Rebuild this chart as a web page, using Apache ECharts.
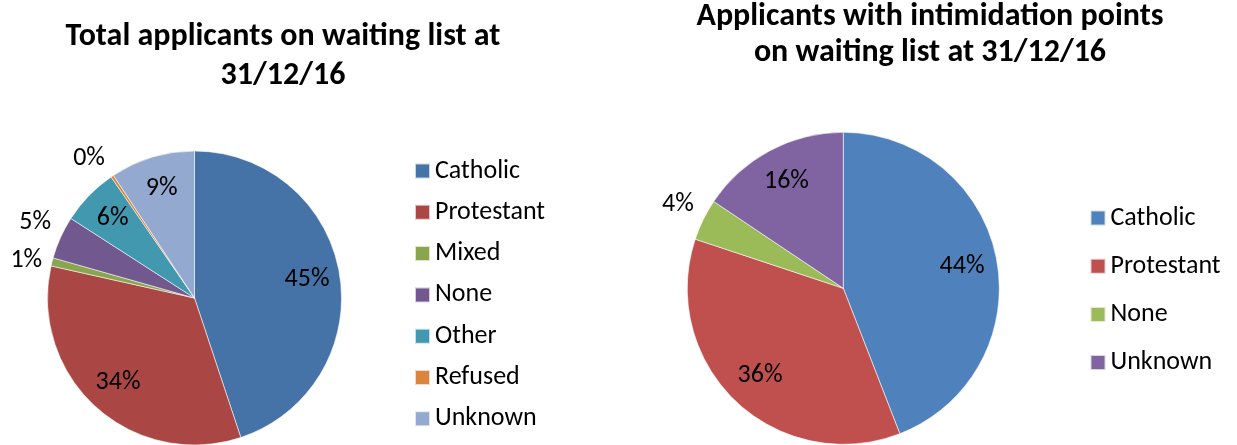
<!DOCTYPE html>
<html>
<head>
<meta charset="utf-8">
<script src="https://cdn.jsdelivr.net/npm/echarts@6/dist/echarts.min.js"></script>
<style>
  html, body { margin: 0; padding: 0; background: #fff; }
  #wrap { position: relative; width: 1237px; height: 445px; overflow: hidden; }
  #left { position: absolute; left: 0; top: 0; width: 620px; height: 445px; }
  #right { position: absolute; left: 620px; top: 0; width: 617px; height: 445px; }
</style>
</head>
<body>
<div id="wrap"><div id="left"></div><div id="right"></div></div>
<script>
// ---- data ----
const leftTitle = 'Total applicants on waiting list at\n31/12/16';
const leftCategories = ['Catholic', 'Protestant', 'Mixed', 'None', 'Other', 'Refused', 'Unknown'];
const leftValues = [44.9, 33.6, 0.9, 4.7, 6.3, 0.3, 9.3];

const rightTitle = 'Applicants with intimidation points\non waiting list at 31/12/16';
const rightCategories = ['Catholic', 'Protestant', 'None', 'Unknown'];
const rightValues = [44.1, 36.0, 4.3, 15.6];

// ---- styles ----
const leftColors = ['#4572A7', '#AA4643', '#89A54E', '#71588F', '#4198AF', '#DB843D', '#93A9CF'];
const rightColors = ['#4F81BD', '#C0504D', '#9BBB59', '#8064A2'];
const FONT = 'Carlito, Lato, sans-serif';
const OUTSIDE_BELOW = 5;

function pct(p) { return Math.round(p) + '%'; }

function buildOption(cfg) {
  const data = cfg.categories.map((n, i) => ({ name: n, value: cfg.values[i] }));
  const r = cfg.r;
  return {
    animation: false,
    color: cfg.colors,
    title: {
      text: cfg.title,
      left: cfg.titleX,
      top: cfg.titleTop,
      textAlign: 'center',
      padding: 0,
      textStyle: { fontFamily: FONT, fontWeight: 'bold', fontSize: 32, lineHeight: cfg.titleLH, color: '#000' }
    },
    legend: {
      orient: 'vertical',
      left: cfg.legendX,
      top: cfg.legendY,
      data: cfg.categories,
      icon: 'rect',
      itemWidth: 15,
      itemHeight: 15,
      itemGap: cfg.legendGap,
      padding: 0,
      selectedMode: false,
      textStyle: { fontFamily: FONT, fontSize: 26, lineHeight: 26, color: '#000' }
    },
    series: [
      {
        type: 'pie',
        center: [cfg.cx, cfg.cy],
        radius: [0, r],
        startAngle: 90,
        clockwise: true,
        avoidLabelOverlap: false,
        data: data,
        itemStyle: { borderColor: 'rgba(255,255,255,0.7)', borderWidth: 0.8 },
        label: {
          show: true,
          position: 'outside',
          fontFamily: FONT, fontSize: 26, color: '#000',
          distanceToLabelLine: 4,
          formatter: p => (p.percent < OUTSIDE_BELOW ? pct(p.percent) : '')
        },
        labelLine: { show: false, length: 6, length2: 0 },
        // Like Excel's best fit: steep outside labels sit with their corner on the ring
        labelLayout: function (params) {
          const lr = params.labelRect;
          if (!params.text || !lr) return {};
          const relY = lr.y + lr.height / 2 - cfg.cy;
          const relX = lr.x + lr.width / 2 - cfg.cx;
          const ratio = Math.abs(relY) / Math.sqrt(relX * relX + relY * relY);
          if (ratio > 0.3) return { dy: (relY < 0 ? -1 : 1) * lr.height / 2 };
          return {};
        },
        emphasis: { disabled: true }
      },
      {
        type: 'pie',
        center: [cfg.cx, cfg.cy],
        radius: [r * 0.51, r],
        startAngle: 90,
        clockwise: true,
        silent: true,
        avoidLabelOverlap: false,
        data: data,
        itemStyle: { color: 'rgba(0,0,0,0)', borderWidth: 0 },
        label: {
          show: true,
          position: 'inside',
          fontFamily: FONT, fontSize: 26, color: '#000', textBorderWidth: 0,
          formatter: p => (p.percent >= OUTSIDE_BELOW ? pct(p.percent) : '')
        },
        labelLine: { show: false },
        emphasis: { disabled: true }
      }
    ]
  };
}

const leftChart = echarts.init(document.getElementById('left'));
leftChart.setOption(buildOption({
  title: leftTitle, titleX: 283, titleTop: 17, titleLH: 39,
  categories: leftCategories, values: leftValues, colors: leftColors,
  cx: 194.5, cy: 298, r: 147,
  legendX: 414, legendY: 158, legendGap: 15.3
}));

const rightChart = echarts.init(document.getElementById('right'));
rightChart.setOption(buildOption({
  title: rightTitle, titleX: 310, titleTop: -1, titleLH: 36,
  categories: rightCategories, values: rightValues, colors: rightColors,
  cx: 223.3, cy: 288.3, r: 156,
  legendX: 469.5, legendY: 205, legendGap: 22.2
}));
</script>
</body>
</html>
